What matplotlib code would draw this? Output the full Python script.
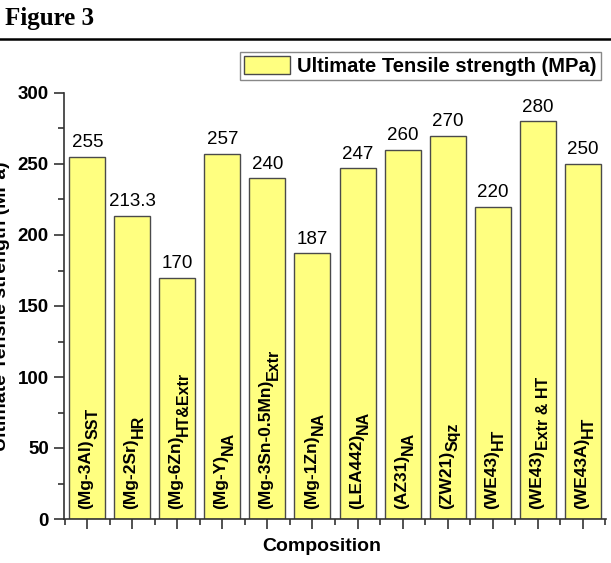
import matplotlib
matplotlib.use('Agg')
import matplotlib.pyplot as plt
import numpy as np
from matplotlib.ticker import MultipleLocator, FixedLocator

plt.rcParams['font.family'] = ['Liberation Sans', 'DejaVu Sans']

BAR_FILL = '#ffff80'
BAR_EDGE = '#4a4a4a'

# alloy name and processing route (route drawn as a subscript)
alloys = ['(Mg-3Al)', '(Mg-2Sr)', '(Mg-6Zn)', '(Mg-Y)', '(Mg-3Sn-0.5Mn)', '(Mg-1Zn)',
          '(LEA442)', '(AZ31)', '(ZW21)', '(WE43)', '(WE43)', '(WE43A)']
routes = ['SST', 'HR', 'HT&Extr', 'NA', 'Extr', 'NA',
          'NA', 'NA', 'Sqz', 'HT', 'Extr & HT', 'HT']
uts = [255, 213.3, 170, 257, 240, 187, 247, 260, 270, 220, 280, 250]
value_labels = ['255', '213.3', '170', '257', '240', '187', '247', '260', '270', '220', '280', '250']

fig = plt.figure(figsize=(6.11, 5.63), dpi=100)
ax = fig.add_axes([64 / 611, 44 / 563, 542 / 611, 426 / 563])

x = np.arange(len(uts))
ax.bar(x, uts, width=0.8, color=BAR_FILL, edgecolor=BAR_EDGE, linewidth=1.0,
       label='Ultimate Tensile strength (MPa)')

for xi, val, txt in zip(x, uts, value_labels):
    ax.text(xi, val + 4, txt, ha='center', va='bottom', fontsize=13.5)

# composition names inside the bars, processing route as a lowered, smaller tail
for xi, name, sub in zip(x, alloys, routes):
    main = ax.text(xi - 0.03, 7, name, rotation=90, ha='center', va='bottom',
                   fontsize=12.5, fontweight='bold')
    ax.annotate(sub, xy=(1, 1), xycoords=main, xytext=(5, 0), textcoords='offset points',
                rotation=90, ha='right', va='bottom', fontsize=11.5, fontweight='bold')

ax.set_xlim(-0.52, 11.52)
ax.set_ylim(0, 300)

ax.spines['top'].set_visible(False)
ax.spines['right'].set_visible(False)
for sp in ('left', 'bottom'):
    ax.spines[sp].set_color('#333333')
    ax.spines[sp].set_linewidth(1.2)

ax.yaxis.set_major_locator(MultipleLocator(50))
ax.yaxis.set_minor_locator(MultipleLocator(25))
ax.xaxis.set_major_locator(FixedLocator(x))
ax.xaxis.set_minor_locator(FixedLocator(np.arange(-0.5, 12, 1.0)))
ax.set_xticklabels([])
ax.tick_params(which='major', direction='out', length=7, width=1.2, color='#333333')
ax.tick_params(which='minor', direction='out', length=4, width=1.2, color='#333333')
ax.tick_params(axis='y', labelsize=13.5, pad=4)
for lab in ax.get_yticklabels():
    lab.set_fontweight('bold')

ax.set_xlabel('Composition', fontsize=14, fontweight='bold')
ax.xaxis.set_label_coords(0.475, -0.045)
ax.set_ylabel('Ultimate Tensile strength (MPa)', fontsize=14, fontweight='bold')
ax.yaxis.set_label_coords(-0.1, 0.5)

leg = ax.legend(loc='upper right', bbox_to_anchor=(601 / 611, 1 - 52 / 563),
                bbox_transform=fig.transFigure, borderaxespad=0,
                prop={'weight': 'bold', 'size': 14.5}, fancybox=False, framealpha=1,
                edgecolor='#888888', handlelength=2.3, handleheight=1.0,
                borderpad=0.2, handletextpad=0.35)
leg.get_frame().set_linewidth(1.0)

# page header above the chart
fig.text(5 / 611, 1 - 18 / 563, 'Figure 3', fontsize=18, fontweight='bold',
         family='Liberation Serif', ha='left', va='center')
fig.add_artist(plt.Line2D([0, 1], [1 - 39 / 563, 1 - 39 / 563], color='black', linewidth=1.8))

fig.savefig('out.png', dpi=100)
